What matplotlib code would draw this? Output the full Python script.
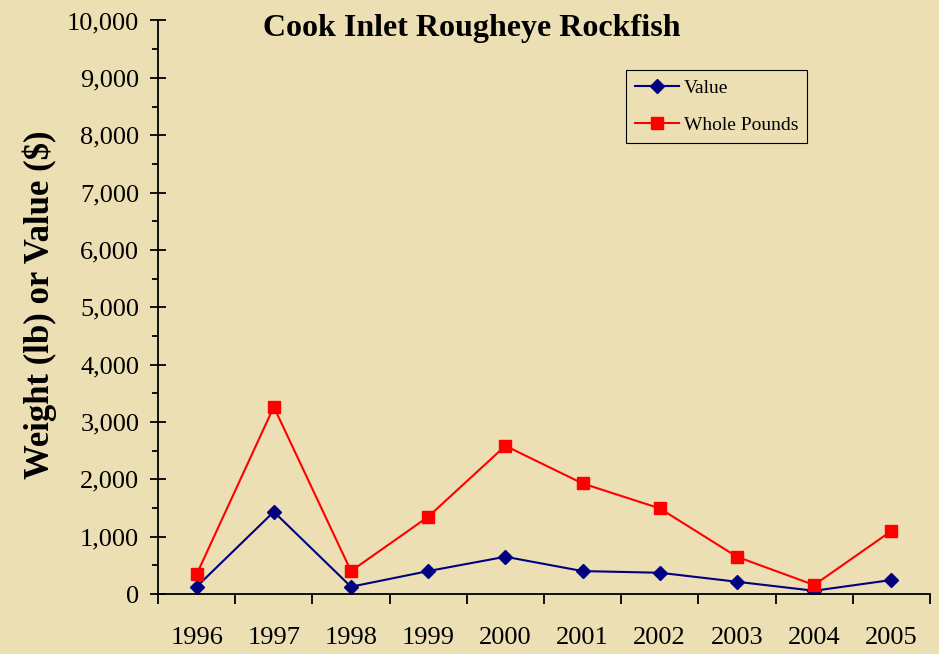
import matplotlib.pyplot as plt
import numpy as np
from matplotlib.ticker import MultipleLocator, FuncFormatter

# Cook Inlet rougheye rockfish landings
years = ["1996", "1997", "1998", "1999", "2000", "2001", "2002", "2003", "2004", "2005"]
value = [127, 1434, 127, 400, 650, 400, 371, 214, 57, 244]
whole_pounds = [343, 3263, 400, 1347, 2584, 1928, 1493, 650, 157, 1098]

bg = "#ECDFB4"
plt.rcParams['font.family'] = ['Liberation Serif', 'DejaVu Serif']

fig = plt.figure(figsize=(9.39, 6.54), dpi=100)
fig.patch.set_facecolor(bg)
ax = fig.add_axes([0.1683, 0.0917, 0.822, 0.877])
ax.set_facecolor(bg)

x = np.arange(len(years))
ax.plot(x, value, color="#000080", marker="D", markersize=7, linewidth=1.5, label="Value")
ax.plot(x, whole_pounds, color="#FF0000", marker="s", markersize=9, linewidth=1.5,
        markeredgecolor="#FF0000", label="Whole Pounds")

ax.set_xlim(-0.5, len(years) - 0.5)
ax.set_ylim(0, 10000)

# category boundaries as ticks, labels at centres
ax.set_xticks(np.arange(-0.5, len(years)), labels=[""] * (len(years) + 1))
ax.set_xticks(x, labels=years, minor=True)
ax.tick_params(axis="x", which="major", direction="out", length=7, width=1.3, color="black")
ax.tick_params(axis="x", which="minor", length=0, pad=24, labelsize=19)

ax.yaxis.set_major_locator(MultipleLocator(1000))
ax.yaxis.set_minor_locator(MultipleLocator(500))
ax.yaxis.set_major_formatter(FuncFormatter(lambda v, p: f"{v:,.0f}"))
ax.tick_params(axis="y", which="major", direction="inout", length=12, width=1.3, labelsize=19, pad=7.5)
ax.tick_params(axis="y", which="minor", direction="out", length=4.5, width=1.3)

for s in ["top", "right"]:
    ax.spines[s].set_visible(False)
for s in ["left", "bottom"]:
    ax.spines[s].set_linewidth(1.3)

fig.text(0.502, 0.957, "Cook Inlet Rougheye Rockfish", ha="center", va="center",
         fontsize=23, fontweight="bold")
fig.text(0.042, 0.534, "Weight (lb) or Value ($)", ha="center", va="center",
         rotation=90, fontsize=25, fontweight="bold")

leg = ax.legend(loc="upper left", bbox_to_anchor=(0.606, 0.913), borderaxespad=0,
                fontsize=14, frameon=True, fancybox=False, edgecolor="black",
                facecolor=bg, framealpha=1, borderpad=0.45, labelspacing=1.0,
                handlelength=2.3, handletextpad=0.25)
leg.get_frame().set_linewidth(0.8)

plt.savefig("out.png", dpi=100, facecolor=fig.get_facecolor())
plt.close()
